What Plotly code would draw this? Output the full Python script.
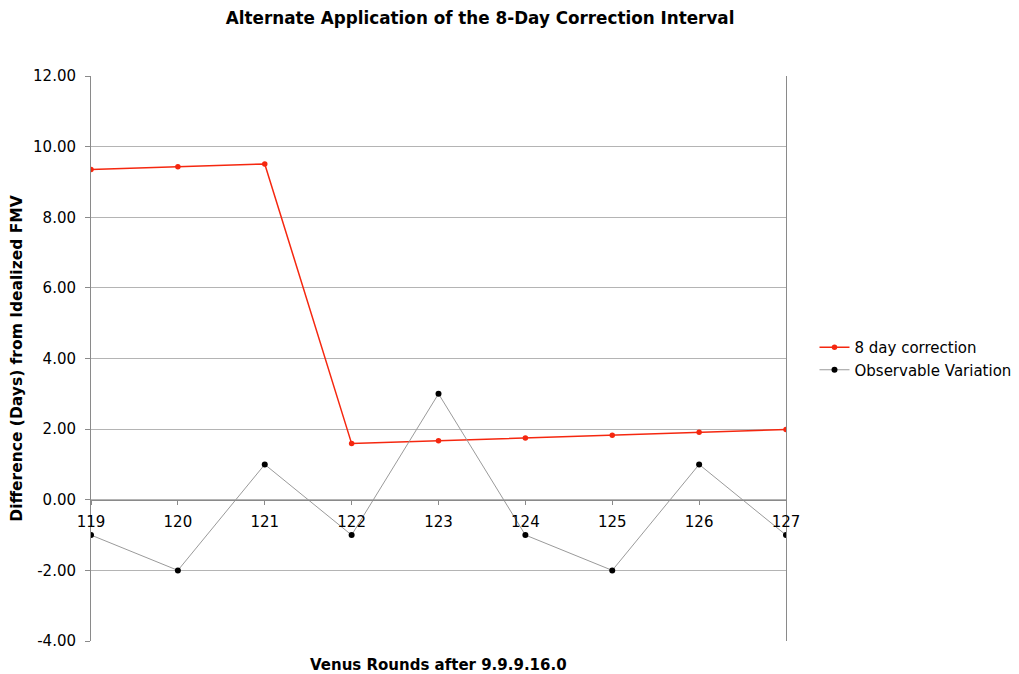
import plotly.graph_objects as go

# Venus rounds after 9.9.9.16.0
rounds = [119, 120, 121, 122, 123, 124, 125, 126, 127]
correction_8day = [9.35, 9.43, 9.51, 1.59, 1.67, 1.75, 1.83, 1.91, 1.99]
observable_variation = [-1, -2, 1, -1, 3, -1, -2, 1, -1]

# y ticks, labelled with a plain hyphen like the original
y_ticks = [-4, -2, 0, 2, 4, 6, 8, 10, 12]
y_tick_labels = ["%.2f" % v for v in y_ticks]

FONT = "DejaVu Sans, Verdana, sans-serif"

fig = go.Figure()

fig.add_trace(
    go.Scatter(
        x=rounds,
        y=correction_8day,
        mode="lines+markers",
        name="8 day correction",
        line=dict(color="#f5270f", width=1.5),
        marker=dict(color="#f5270f", size=5.5),
    )
)

fig.add_trace(
    go.Scatter(
        x=rounds,
        y=observable_variation,
        mode="lines+markers",
        name="Observable Variation",
        line=dict(color="#9a9a9a", width=1),
        marker=dict(color="black", size=6),
    )
)

# page body adds an 8px offset, so margins are trimmed by that amount
fig.update_layout(
    width=1011,
    height=666,
    paper_bgcolor="white",
    plot_bgcolor="white",
    margin=dict(l=83, r=233, t=68, b=33, autoexpand=False),
    font=dict(family=FONT, size=15, color="black"),
    title=dict(
        text="<b>Alternate Application of the 8-Day Correction Interval</b>",
        x=0.467,
        xanchor="center",
        y=0.985,
        yanchor="middle",
        font=dict(size=16.8),
    ),
    showlegend=True,
    legend=dict(
        x=1.041,
        y=0.5,
        xanchor="left",
        yanchor="middle",
        font=dict(size=15),
        bgcolor="rgba(0,0,0,0)",
    ),
    xaxis=dict(
        range=[119, 127],
        tickmode="array",
        tickvals=rounds,
        ticktext=[str(r) for r in rounds],
        anchor="free",
        position=0.25,
        showgrid=False,
        zeroline=False,
        showline=True,
        linecolor="#8a8a8a",
        linewidth=1,
        ticks="outside",
        ticklen=4,
        tickcolor="#8a8a8a",
        ticklabelstandoff=4,
        tickfont=dict(size=15),
    ),
    yaxis=dict(
        range=[-4, 12],
        tickmode="array",
        tickvals=y_ticks,
        ticktext=y_tick_labels,
        showgrid=True,
        gridcolor="#b4b4b4",
        gridwidth=1,
        zeroline=False,
        showline=True,
        mirror=True,
        linecolor="#8a8a8a",
        linewidth=1,
        ticks="outside",
        ticklen=5,
        tickcolor="#8a8a8a",
        ticklabelstandoff=6,
        tickfont=dict(size=15),
        title=dict(
            text="<b>Difference (Days) from Idealized FMV</b>",
            font=dict(size=15.5),
            standoff=6,
        ),
    ),
    annotations=[
        dict(
            text="<b>Venus Rounds after 9.9.9.16.0</b>",
            xref="paper",
            yref="paper",
            x=0.5,
            y=-0.042,
            xanchor="center",
            yanchor="middle",
            showarrow=False,
            font=dict(size=15),
        )
    ],
)

fig.write_html("out.html")
